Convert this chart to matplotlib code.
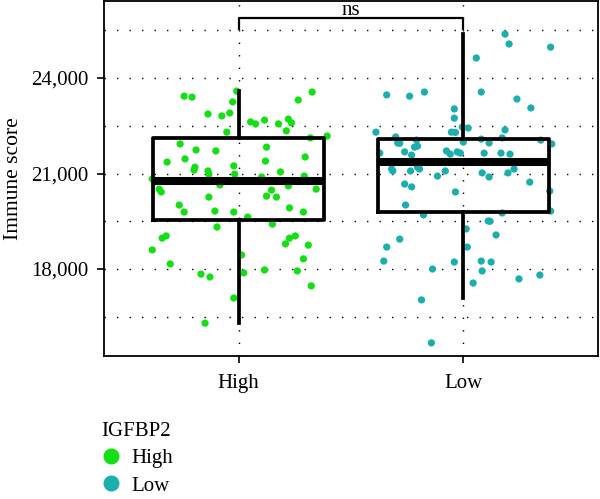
import matplotlib
matplotlib.use('Agg')
import matplotlib.pyplot as plt
from matplotlib.lines import Line2D

plt.rcParams['font.family'] = ['Liberation Serif', 'DejaVu Serif']

####INPUT DATA####
groups = ['High', 'Low']
colors = ['#12E012', '#1AAEAE']
legendTitle = 'IGFBP2'
yLabel = 'Immune score'
sigLabel = 'ns'

# jitter offsets and immune scores
high_jitter = [-0.385, -0.354, -0.345, -0.319, -0.261, -0.239, -0.243, -0.208, -0.190, -0.195,
               -0.199, -0.137, -0.137, -0.133, -0.102, -0.075, -0.040, -0.053, -0.022, -0.018,
               -0.009, -0.027, -0.385, -0.341, -0.323, -0.305, -0.265, -0.243, -0.168, -0.128,
               -0.150, -0.133, -0.106, -0.097, -0.084, -0.022, -0.022, 0.013, 0.022, 0.040,
               0.053, 0.075, 0.115, 0.124, 0.119, 0.124, 0.146, 0.168, 0.150, 0.177,
               0.221, 0.235, 0.212, 0.186, 0.102, 0.221, 0.226, 0.226, 0.252, 0.208,
               0.115, 0.261, 0.265, 0.327, 0.394, 0.319, 0.296, 0.292, 0.345, 0.288,
               0.310, 0.288, 0.323]
high_score = [20830, 20510, 20420, 21360, 21930, 21460, 23430, 23400, 21740, 21200,
              21110, 22870, 21080, 20980, 21710, 22810, 22900, 22300, 21240, 20980,
              23590, 23250, 18600, 18970, 19040, 18160, 20010, 19790, 17840, 17750,
              16300, 20260, 19820, 19320, 20640, 19790, 17090, 18440, 17880, 19630,
              22620, 22560, 22680, 21830, 21390, 20290, 20480, 20260, 19410, 22560,
              22710, 22590, 22340, 21050, 20890, 20610, 19920, 18970, 19040, 18790,
              17970, 17940, 23310, 23560, 22180, 22120, 21520, 20920, 20510, 19790,
              18750, 18320, 17470]

low_jitter = [0.186, 0.204, 0.389, 0.058, -0.341, -0.239, -0.173, 0.080, 0.239, 0.301,
              -0.040, -0.040, -0.004, 0.022, -0.053, -0.035, 0.186, -0.389, -0.301, -0.292,
              -0.283, -0.208, -0.204, -0.217, 0.000, 0.080, 0.115, 0.173, 0.345, 0.394,
              -0.372, -0.261, -0.230, -0.075, -0.058, -0.027, -0.013, 0.093, 0.168, 0.208,
              -0.319, -0.314, -0.235, -0.204, -0.195, -0.115, -0.080, 0.084, 0.115, 0.199,
              0.226, -0.261, -0.230, -0.035, 0.296, 0.385, -0.257, -0.177, 0.173, 0.111,
              0.119, 0.389, 0.013, 0.146, -0.283, -0.341, 0.018, -0.354, -0.040, 0.080,
              0.124, -0.137, 0.084, 0.044, 0.248, 0.341, -0.186, -0.142]
low_score = [25380, 25070, 24970, 24630, 23470, 23430, 23560, 23560, 23340, 23060,
             23030, 22740, 22460, 22430, 22300, 22290, 22370, 22300, 22150, 21960,
             21950, 22050, 21860, 21830, 21990, 22080, 21960, 22120, 22050, 21930,
             21640, 21680, 21580, 21710, 21610, 21680, 21640, 21640, 21640, 21610,
             21140, 21080, 21080, 21200, 21140, 20920, 21080, 21020, 20890, 21020,
             21140, 20670, 20580, 20420, 20730, 20450, 20010, 19700, 19760, 19510,
             19500, 19820, 19260, 19070, 18940, 18690, 18690, 18250, 18220, 18250,
             18220, 18000, 17940, 17560, 17690, 17810, 17030, 15680]

# box summaries (lower whisker, Q1, median, Q3, upper whisker)
box_whislo = [16300, 17090]
box_q1 = [19555, 19790]
box_med = [20765, 21360]
box_q3 = [22115, 22070]
box_whishi = [23590, 25380]

yTicks = [18000, 21000, 24000]
yMinor = [16500, 19500, 22500, 25500]

######################################################

fig = plt.figure(figsize=(6.0, 4.99), dpi=100)
ax = fig.add_axes([0.1733, 0.2866, 0.8234, 0.7114])

dotted = (0, (1, 8))
for y in yTicks + yMinor:
    ax.axhline(y, color='black', lw=1.0, ls=dotted, zorder=0)
for x in [1, 2]:
    ax.axvline(x, color='black', lw=1.0, ls=dotted, zorder=0)

jitters = [high_jitter, low_jitter]
scores = [high_score, low_score]
for i in range(len(groups)):
    xs = [i + 1 + j for j in jitters[i]]
    ax.scatter(xs, scores[i], s=27, color=colors[i], edgecolors='none', zorder=2)

stats = []
for i in range(len(groups)):
    stats.append({'whislo': box_whislo[i], 'q1': box_q1[i], 'med': box_med[i],
                  'q3': box_q3[i], 'whishi': box_whishi[i], 'fliers': []})
ax.bxp(stats, positions=[1, 2], widths=0.76, showcaps=False, showfliers=False,
       boxprops=dict(color='black', linewidth=2.7),
       whiskerprops=dict(color='black', linewidth=2.7),
       medianprops=dict(color='black', linewidth=5.8, solid_capstyle='butt'),
       manage_ticks=False, zorder=3)

# significance bracket
ax.plot([1, 1, 2, 2], [25540, 25885, 25885, 25540], color='black', lw=1.6,
        zorder=4, clip_on=False)
ax.text(1.5, 25990, sigLabel, ha='center', va='baseline', fontsize=15)

ax.set_xlim(0.4, 2.6)
ax.set_ylim(15268, 26420)
ax.set_xticks([1, 2])
ax.set_xticklabels(groups, fontsize=15)
ax.set_yticks(yTicks)
ax.set_yticklabels(['{:,}'.format(v) for v in yTicks], fontsize=15)
ax.tick_params(axis='both', direction='out', length=5, width=1.2, color='black', pad=6)
ax.tick_params(axis='x', pad=8)
ax.set_ylabel(yLabel, fontsize=15.5, labelpad=6)
for sp in ax.spines.values():
    sp.set_linewidth(1.3)
    sp.set_color('black')

handles = [Line2D([], [], marker='o', ls='none', markersize=10.5, color=c) for c in colors]
leg = fig.legend(handles, groups, title=legendTitle, loc='upper left',
                 bbox_to_anchor=(0.168, 0.155), frameon=False, fontsize=15,
                 title_fontsize=15, handlelength=1.0, handletextpad=0.45,
                 labelspacing=0.38, borderpad=0, borderaxespad=0)
leg._legend_box.align = 'left'

fig.savefig('out.png', dpi=100)
